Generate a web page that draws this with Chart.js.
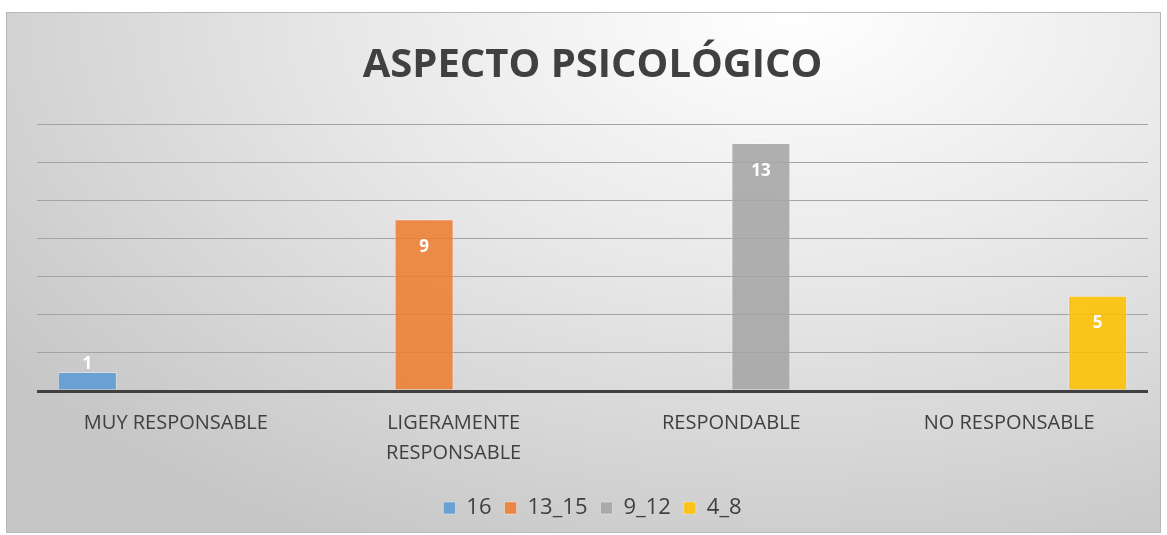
<!DOCTYPE html>
<html>
<head>
<meta charset="utf-8">
<script src="https://cdn.jsdelivr.net/npm/chart.js@4.4.0/dist/chart.umd.min.js"></script>
<style>
  body { margin: 0; background: #fff; }
  #box {
    position: absolute; left: 6px; top: 12px; width: 1153px; height: 519px;
    border: 1px solid #b8b8b8;
    background: radial-gradient(ellipse 85% 115% at 68% 0%, #ffffff 0%, #e8e8e8 45%, #c6c6c6 100%);
  }
</style>
</head>
<body>
<div id="box"><canvas id="chart"></canvas></div>
<script>
// datos del grafico
var categorias = [["MUY RESPONSABLE"], ["LIGERAMENTE", "RESPONSABLE"], ["RESPONDABLE"], ["NO RESPONSABLE"]];
var serie_16 = [1, null, null, null];
var serie_13_15 = [null, 9, null, null];
var serie_9_12 = [null, null, 13, null];
var serie_4_8 = [null, null, null, 5];

// etiquetas blancas dentro de las barras
var etiquetas = {
  id: "etiquetas",
  afterDatasetsDraw: function (chart) {
    var ctx = chart.ctx;
    ctx.save();
    ctx.fillStyle = "#ffffff";
    ctx.font = "bold 17px 'Open Sans'";
    ctx.textAlign = "center";
    ctx.textBaseline = "middle";
    chart.data.datasets.forEach(function (ds, i) {
      chart.getDatasetMeta(i).data.forEach(function (bar, j) {
        var v = ds.data[j];
        if (v === null) return;
        var h = bar.base - bar.y;
        var y = h > 35 ? bar.y + 28 : bar.y - 8;
        ctx.fillText(v, bar.x, y);
      });
    });
    ctx.restore();
  },
};

var ctx = document.getElementById("chart").getContext("2d");
var myChart = new Chart(ctx, {
  type: "bar",
  data: {
    labels: categorias,
    datasets: [
      { label: "16", data: serie_16, backgroundColor: "rgba(91, 155, 213, 0.88)", borderColor: "rgba(255,255,255,0.35)", borderWidth: 1 },
      { label: "13_15", data: serie_13_15, backgroundColor: "rgba(237, 125, 49, 0.88)", borderColor: "rgba(255,255,255,0.35)", borderWidth: 1 },
      { label: "9_12", data: serie_9_12, backgroundColor: "rgba(165, 165, 165, 0.88)", borderColor: "rgba(255,255,255,0.35)", borderWidth: 1 },
      { label: "4_8", data: serie_4_8, backgroundColor: "rgba(255, 192, 0, 0.88)", borderColor: "rgba(255,255,255,0.35)", borderWidth: 1 },
    ],
  },
  options: {
    responsive: true,
    maintainAspectRatio: false,
    animation: false,
    categoryPercentage: 0.85,
    barPercentage: 1,
    layout: { padding: { left: 30, right: 12, top: 0, bottom: 3 } },
    plugins: {
      title: {
        display: true,
        text: "ASPECTO PSICOLÓGICO",
        color: "#404040",
        font: { family: "'Open Sans'", size: 40, weight: "bold" },
        padding: { top: 29, bottom: 34 },
      },
      legend: {
        position: "bottom",
        labels: {
          color: "#404040",
          font: { family: "'Open Sans'", size: 22 },
          boxWidth: 12,
          boxHeight: 12,
          padding: 13,
        },
      },
      tooltip: { enabled: false },
    },
    scales: {
      x: {
        grid: { display: false, drawTicks: false },
        border: { display: false },
        ticks: {
          color: "#404040",
          font: { family: "'Open Sans'", size: 20, lineHeight: 1.5 },
          padding: 17,
          maxRotation: 0,
        },
        afterFit: function (scale) { scale.height -= 1; },
      },
      y: {
        min: 0,
        max: 14,
        ticks: { display: false, stepSize: 2 },
        border: { display: false },
        grid: {
          drawTicks: false,
          color: function (c) { return c.tick.value === 0 ? "#404040" : "#a3a3a3"; },
          lineWidth: function (c) { return c.tick.value === 0 ? 3 : 1; },
        },
      },
    },
  },
  plugins: [etiquetas],
});
</script>
</body>
</html>
